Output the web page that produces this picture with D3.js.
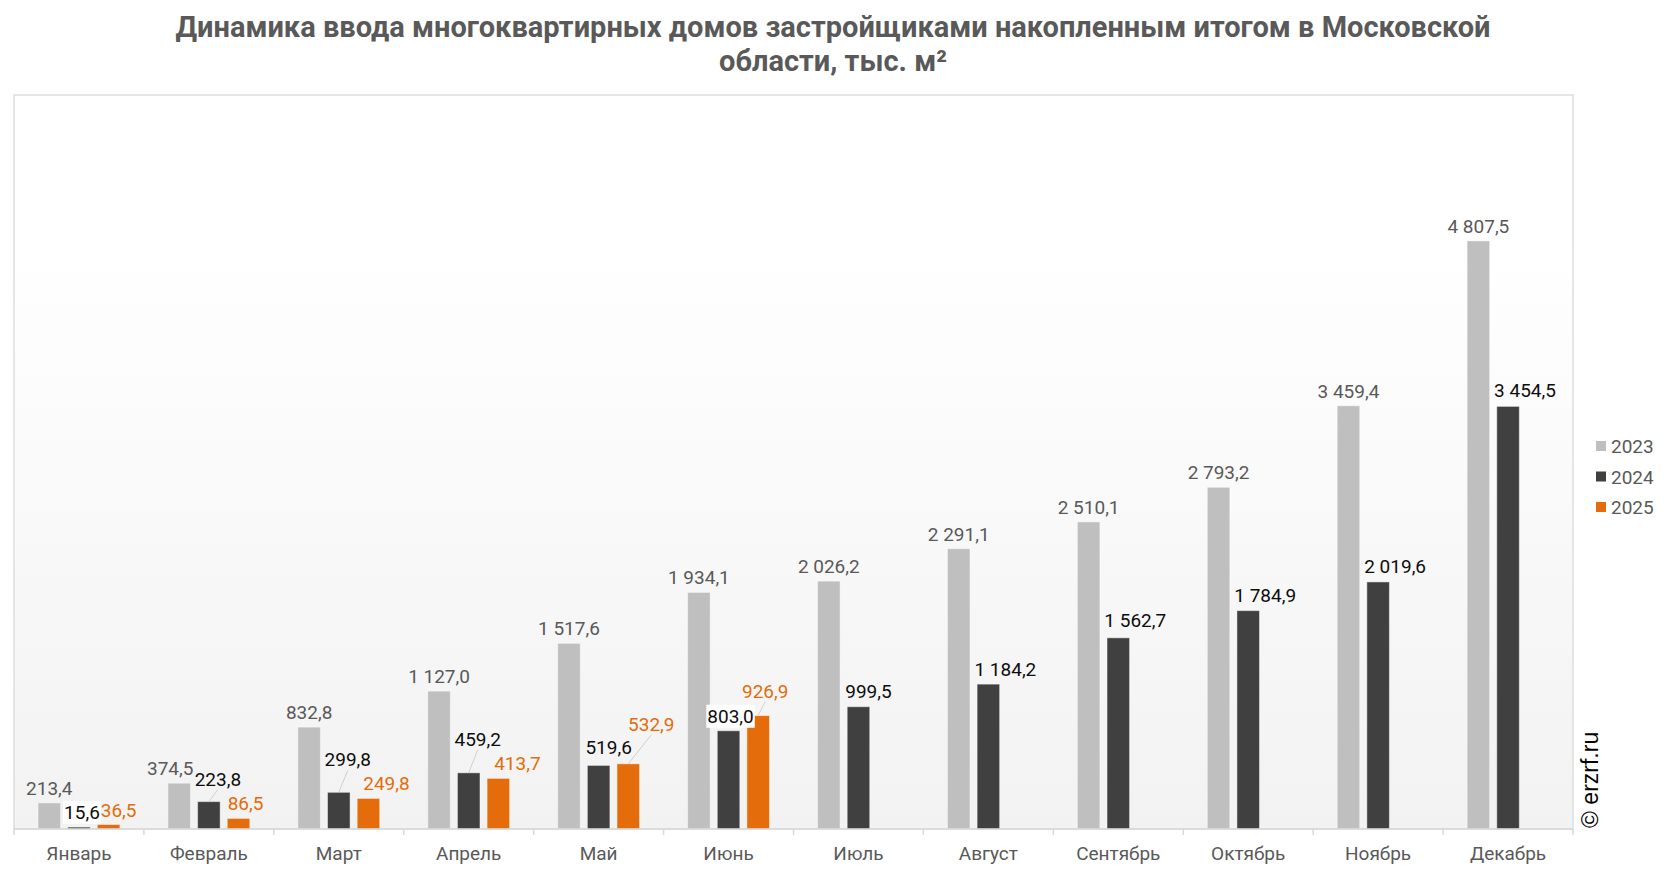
<!DOCTYPE html>
<html>
<head>
<meta charset="utf-8">
<script src="https://cdn.jsdelivr.net/npm/d3@7"></script>
<style>
  body { margin: 0; background: #fff; }
  svg { display: block; font-family: Roboto, "Liberation Sans", sans-serif; }
</style>
</head>
<body>
<svg id="viz"></svg>
<script>
// data
const months = ["Январь", "Февраль", "Март", "Апрель", "Май", "Июнь", "Июль", "Август", "Сентябрь", "Октябрь", "Ноябрь", "Декабрь"];
const years = ["2023", "2024", "2025"];
const v2023 = [213.4, 374.5, 832.8, 1127.0, 1517.6, 1934.1, 2026.2, 2291.1, 2510.1, 2793.2, 3459.4, 4807.5];
const v2024 = [15.6, 223.8, 299.8, 459.2, 519.6, 803.0, 999.5, 1184.2, 1562.7, 1784.9, 2019.6, 3454.5];
const v2025 = [36.5, 86.5, 249.8, 413.7, 532.9, 926.9, null, null, null, null, null, null];
const yMax = 6000;

const W = 1666, H = 872;
const colors = { "2023": "#bfbfbf", "2024": "#404040", "2025": "#e46c0a" };
const labelColors = { "2023": "#595959", "2024": "#0d0d0d", "2025": "#e46c0a" };

// manual label nudges (px), like the moved labels in the original
const nudge = {
  "2023": { dx: [0, -9, 0, 0, 0, 0, 0, 0, 0, 0, 0, 0], dy: [] },
  "2024": { dx: [3, 9, 9, 9, 10, 2, 10, 17, 17, 17, 17, 17], dy: [0, -8, -18, -19, -3, 0, -1, 0, -3, -1, -1, -1],
            leader: [1, 2, 3], box: [0, 5] },
  "2025": { dx: [10, 7, 18, 19, 23, 7], dy: [0, 0, 0, 0, -25, -10], leader: [4, 5] }
};

const ruLocale = d3.formatLocale({ decimal: ",", thousands: "\u00a0", grouping: [3], currency: ["", ""] });
const fmt = ruLocale.format(",.1f");

const svg = d3.select("#viz").attr("width", W).attr("height", H);

const plot = { left: 14, right: 1573, top: 95, bottom: 829 };

const x0 = d3.scaleBand().domain(months).range([plot.left, plot.right]).padding(0);
const x1 = d3.scaleBand().domain(years)
  .range([x0.bandwidth() * 0.185, x0.bandwidth() * 0.815])
  .paddingInner(0.24).paddingOuter(0);
const y = d3.scaleLinear().domain([0, yMax]).range([plot.bottom, plot.top]);

// background gradient of the plot area
const defs = svg.append("defs");
const grad = defs.append("linearGradient").attr("id", "bg").attr("x1", 0).attr("y1", 0).attr("x2", 0).attr("y2", 1);
grad.append("stop").attr("offset", "0%").attr("stop-color", "#ffffff");
grad.append("stop").attr("offset", "20%").attr("stop-color", "#ffffff");
grad.append("stop").attr("offset", "100%").attr("stop-color", "#f2f2f2");

svg.append("rect")
  .attr("x", plot.left).attr("y", plot.top)
  .attr("width", plot.right - plot.left).attr("height", plot.bottom - plot.top)
  .attr("fill", "url(#bg)").attr("stroke", "#d9d9d9").attr("stroke-width", 1.3);

// title
const title = svg.append("text")
  .attr("text-anchor", "middle").attr("fill", "#595959")
  .attr("font-size", 29).attr("font-weight", "bold");
title.append("tspan").attr("x", 833).attr("y", 37)
  .text("Динамика ввода многоквартирных домов застройщиками накопленным итогом в Московской");
title.append("tspan").attr("x", 833).attr("y", 71).text("области, тыс. м²");

// bars
const rows = months.map((m, i) => ({
  month: m, i,
  vals: [
    { year: "2023", v: v2023[i] },
    { year: "2024", v: v2024[i] },
    { year: "2025", v: v2025[i] }
  ].filter(d => d.v != null)
}));

const groups = svg.append("g").selectAll("g")
  .data(rows).join("g")
  .attr("transform", d => `translate(${x0(d.month)},0)`);

groups.selectAll("rect")
  .data(d => d.vals.map(v => ({ ...v, i: d.i })))
  .join("rect")
  .attr("x", d => x1(d.year))
  .attr("y", d => y(d.v))
  .attr("width", x1.bandwidth())
  .attr("height", d => y(0) - y(d.v))
  .attr("fill", d => colors[d.year])
  .attr("stroke", "rgba(255,255,255,0.45)")
  .attr("stroke-width", 1);

// x axis: baseline with ticks between categories
const axisG = svg.append("g");
axisG.append("line")
  .attr("x1", plot.left).attr("x2", plot.right)
  .attr("y1", plot.bottom).attr("y2", plot.bottom)
  .attr("stroke", "#d9d9d9").attr("stroke-width", 1.5);
const tickXs = months.map(m => x0(m)).concat([plot.right]);
axisG.selectAll("line.tick").data(tickXs).join("line")
  .attr("class", "tick")
  .attr("x1", d => d).attr("x2", d => d)
  .attr("y1", plot.bottom).attr("y2", plot.bottom + 6)
  .attr("stroke", "#d9d9d9").attr("stroke-width", 1.5);
axisG.selectAll("text").data(months).join("text")
  .attr("x", d => x0(d) + x0.bandwidth() / 2)
  .attr("y", 860)
  .attr("text-anchor", "middle")
  .attr("font-size", 19).attr("fill", "#595959")
  .text(d => d);

// value labels
const labelG = svg.append("g");
rows.forEach(r => {
  r.vals.forEach(d => {
    const n = nudge[d.year];
    const bx = x0(r.month) + x1(d.year) + x1.bandwidth() / 2;
    const top = y(d.v);
    const lx = bx + (n.dx[r.i] || 0);
    const ly = top - 8 + (n.dy[r.i] || 0);
    if (n.leader && n.leader.includes(r.i)) {
      labelG.append("line")
        .attr("x1", bx).attr("y1", top)
        .attr("x2", lx).attr("y2", ly + 4)
        .attr("stroke", "#d0d0d0").attr("stroke-width", 1);
    }
    const g = labelG.append("g");
    const t = g.append("text")
      .attr("x", lx).attr("y", ly)
      .attr("text-anchor", "middle")
      .attr("font-size", 19)
      .attr("fill", labelColors[d.year])
      .text(fmt(d.v));
    if (n.box && n.box.includes(r.i)) {
      const bb = t.node().getBBox();
      g.insert("rect", "text")
        .attr("x", bb.x - 1).attr("y", bb.y)
        .attr("width", bb.width + 2).attr("height", bb.height)
        .attr("fill", "#ffffff");
    }
  });
});

// legend
const legend = svg.append("g").attr("transform", "translate(1596,446)");
years.forEach((yr, k) => {
  const lg = legend.append("g").attr("transform", `translate(0,${k * 30.5})`);
  lg.append("rect").attr("x", 0).attr("y", -5).attr("width", 10).attr("height", 10).attr("fill", colors[yr]);
  lg.append("text").attr("x", 15).attr("y", 7).attr("font-size", 19).attr("fill", "#595959").text(yr);
});

// watermark
svg.append("text")
  .attr("transform", "translate(1598,828) rotate(-90)")
  .attr("font-family", "'Liberation Sans', Arial, sans-serif")
  .attr("font-size", 23).attr("fill", "#000")
  .text("© erzrf.ru");
</script>
</body>
</html>
